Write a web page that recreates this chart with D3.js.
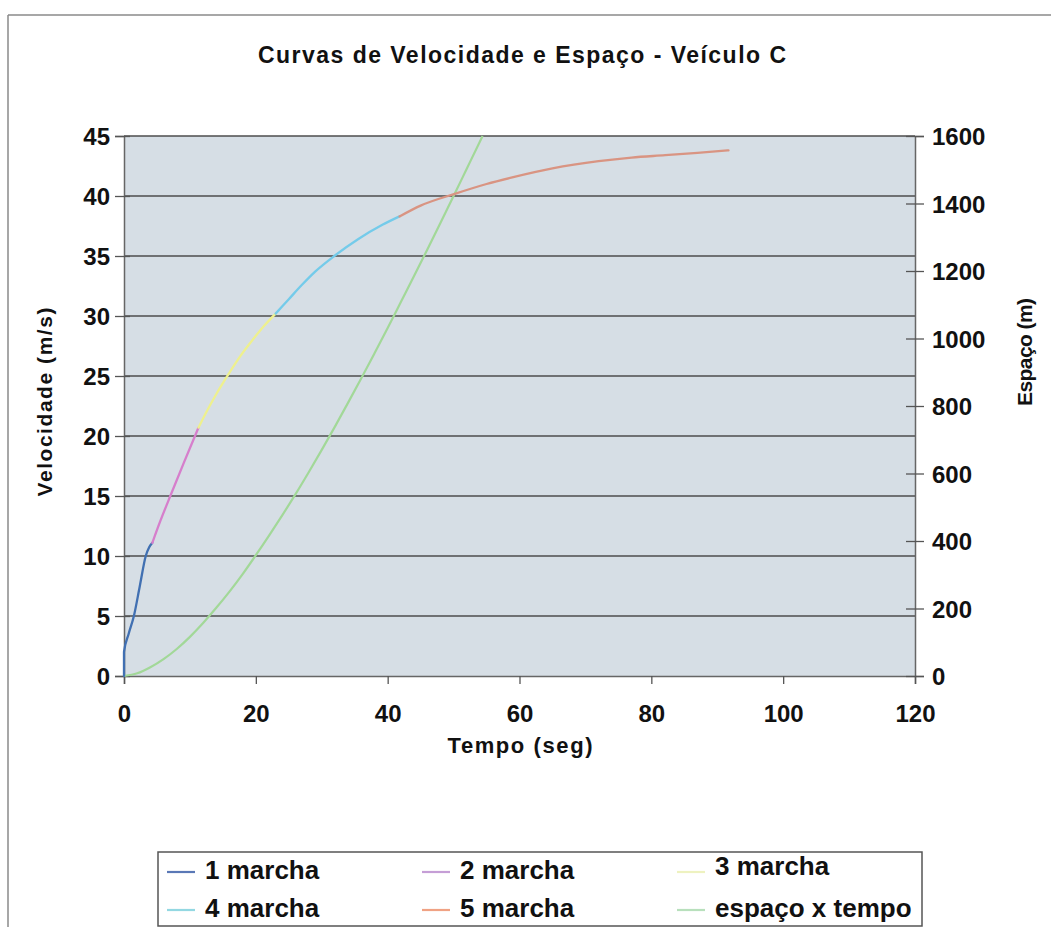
<!DOCTYPE html>
<html>
<head>
<meta charset="utf-8">
<script src="https://cdn.jsdelivr.net/npm/d3@7"></script>
<style>
  html, body { margin: 0; padding: 0; background: #ffffff; }
  svg { display: block; }
  text { font-family: "Liberation Sans", Arial, sans-serif; font-weight: bold; fill: #111; }
</style>
</head>
<body>
<svg id="chart" width="1051" height="927"></svg>
<script>
// Velocity (m/s) over time (s), one array per gear: [tempo, velocidade]
const marcha1 = [[0, 0], [0, 2.0], [0.7, 3.5], [1.5, 5.0], [2.4, 7.5], [3.3, 10.0], [3.8, 10.7], [4.3, 11.1]];
const marcha2 = [[4.3, 11.1], [5.5, 12.9], [7.1, 15.1], [9.1, 17.8], [11.3, 20.7]];
const marcha3 = [[11.3, 20.7], [12.5, 22.0], [13.9, 23.4], [15.9, 25.2], [17.7, 26.7], [19.5, 28.0], [21.3, 29.2], [23.0, 30.2]];
const marcha4 = [[23.0, 30.2], [25.0, 31.4], [27.0, 32.6], [29.0, 33.7], [31.9, 35.0], [35.5, 36.4], [39.2, 37.6], [41.8, 38.3]];
const marcha5 = [[41.8, 38.3], [45.0, 39.2], [50.3, 40.2], [55.0, 41.0], [58.9, 41.55], [65.0, 42.3], [72.0, 42.9], [77.0, 43.2], [82.1, 43.4], [87.0, 43.6], [91.7, 43.8]];

// Distance (m) over time (s): [tempo, espaço]
const espacoTempo = [[0, 0], [2, 8], [4, 26], [6, 50], [8, 80], [10, 116], [12, 157], [14, 202], [16, 250], [18, 302],
  [20, 358], [22, 416], [24, 476], [26, 538], [28, 603], [30, 670], [32, 739], [34, 810], [36, 882], [38, 956],
  [40, 1031], [42, 1108], [44, 1185], [46, 1263], [48, 1342], [50, 1422], [52, 1503], [54, 1584], [54.4, 1600]];

// Axis ticks
const tempoTicks = [0, 20, 40, 60, 80, 100, 120];
const velocidadeTicks = [0, 5, 10, 15, 20, 25, 30, 35, 40, 45];
const espacoTicks = [0, 200, 400, 600, 800, 1000, 1200, 1400, 1600];

// Legend entries in row-major order (3 columns)
const legendLabels = ["1 marcha", "2 marcha", "3 marcha", "4 marcha", "5 marcha", "espaço x tempo"];
const seriesColors = ["#4170b2", "#d67fcc", "#eef08e", "#74cbea", "#d99482", "#a2d898"];
const legendColors = ["#5a78b6", "#c59ed6", "#eef2c0", "#93d8e2", "#f0a284", "#b8e0bc"];

const svg = d3.select("#chart");

// Outer frame of the chart object
svg.append("line").attr("x1", 8).attr("y1", 15).attr("x2", 1051).attr("y2", 15)
  .attr("stroke", "#8a8a8a").attr("stroke-width", 1.5);
svg.append("line").attr("x1", 8).attr("y1", 15).attr("x2", 8).attr("y2", 927)
  .attr("stroke", "#8a8a8a").attr("stroke-width", 1.5);

const plot = { left: 124, right: 915, top: 136, bottom: 676 };

const x = d3.scaleLinear().domain([0, 120]).range([plot.left, plot.right]);
const yV = d3.scaleLinear().domain([0, 45]).range([plot.bottom, plot.top]);
const yS = d3.scaleLinear().domain([0, 1600]).range([plot.bottom, plot.top]);

// Plot area background
svg.append("rect")
  .attr("x", plot.left).attr("y", plot.top)
  .attr("width", plot.right - plot.left).attr("height", plot.bottom - plot.top)
  .attr("fill", "#d6dee5");

// Horizontal gridlines at the velocity ticks
svg.append("g").selectAll("line")
  .data(velocidadeTicks.filter(d => d > 0))
  .join("line")
  .attr("x1", plot.left).attr("x2", plot.right)
  .attr("y1", d => yV(d)).attr("y2", d => yV(d))
  .attr("stroke", "#4d4d4d").attr("stroke-width", 1.6);

// Title
svg.append("text")
  .attr("x", 522).attr("y", 63)
  .attr("text-anchor", "middle")
  .attr("font-size", 23)
  .attr("textLength", 528).attr("lengthAdjust", "spacing")
  .text("Curvas de Velocidade e Espaço - Veículo C");

// Bottom axis (tempo)
const gx = svg.append("g")
  .attr("transform", `translate(0,${plot.bottom})`)
  .call(d3.axisBottom(x).tickValues(tempoTicks).tickSize(8).tickFormat(d3.format("d")));
gx.select(".domain").attr("stroke", "#666").attr("stroke-width", 1.5);
gx.selectAll(".tick line").attr("stroke", "#555").attr("stroke-width", 1.3);
gx.selectAll(".tick text").attr("y", 46).attr("dy", 0)
  .attr("font-size", 24).attr("font-family", "Liberation Sans, Arial, sans-serif").attr("font-weight", "bold").attr("fill", "#111");

// Left axis (velocidade)
const gyL = svg.append("g")
  .attr("transform", `translate(${plot.left},0)`)
  .call(d3.axisLeft(yV).tickValues(velocidadeTicks).tickSize(9).tickFormat(d3.format("d")));
gyL.select(".domain").attr("stroke", "#666").attr("stroke-width", 1.5);
gyL.selectAll(".tick line").attr("x1", 6).attr("stroke", "#555").attr("stroke-width", 1.3);
gyL.selectAll(".tick text").attr("x", -14).attr("dy", "0.36em")
  .attr("font-size", 24).attr("font-family", "Liberation Sans, Arial, sans-serif").attr("font-weight", "bold").attr("fill", "#111");

// Right axis (espaço)
const gyR = svg.append("g")
  .attr("transform", `translate(${plot.right},0)`)
  .call(d3.axisRight(yS).tickValues(espacoTicks).tickSize(9).tickFormat(d3.format("d")));
gyR.select(".domain").attr("stroke", "#666").attr("stroke-width", 1.5);
gyR.selectAll(".tick line").attr("x1", -9).attr("stroke", "#555").attr("stroke-width", 1.3);
gyR.selectAll(".tick text").attr("x", 17).attr("dy", "0.36em")
  .attr("font-size", 24).attr("font-family", "Liberation Sans, Arial, sans-serif").attr("font-weight", "bold").attr("fill", "#111");

// Axis titles
svg.append("text")
  .attr("x", 520).attr("y", 753)
  .attr("text-anchor", "middle")
  .attr("font-size", 22)
  .attr("textLength", 145).attr("lengthAdjust", "spacing")
  .text("Tempo (seg)");

svg.append("text")
  .attr("transform", "translate(52,402) rotate(-90)")
  .attr("text-anchor", "middle")
  .attr("font-size", 21)
  .attr("textLength", 189).attr("lengthAdjust", "spacing")
  .text("Velocidade  (m/s)");

svg.append("text")
  .attr("transform", "translate(1032,352) rotate(-90)")
  .attr("text-anchor", "middle")
  .attr("font-size", 21)
  .attr("textLength", 108).attr("lengthAdjust", "spacing")
  .text("Espaço (m)");

// Curves
const lineV = d3.line().x(d => x(d[0])).y(d => yV(d[1])).curve(d3.curveMonotoneX);
const lineS = d3.line().x(d => x(d[0])).y(d => yS(d[1])).curve(d3.curveMonotoneX);

const velocidadeSeries = [marcha1, marcha2, marcha3, marcha4, marcha5];

svg.append("path")
  .datum(espacoTempo)
  .attr("d", lineS)
  .attr("fill", "none")
  .attr("stroke", seriesColors[5])
  .attr("stroke-width", 2.2);

svg.append("g").selectAll("path")
  .data(velocidadeSeries)
  .join("path")
  .attr("d", d => lineV(d))
  .attr("fill", "none")
  .attr("stroke", (d, i) => seriesColors[i])
  .attr("stroke-width", 2.3)
  .attr("stroke-linecap", "round");

// Legend
const legend = svg.append("g");
legend.append("rect")
  .attr("x", 158).attr("y", 852)
  .attr("width", 764).attr("height", 74)
  .attr("fill", "#fff")
  .attr("stroke", "#555").attr("stroke-width", 1.5);

const colX = [167, 422, 677];
const rowY = [872, 910];
const items = legend.selectAll("g.item")
  .data(legendLabels)
  .join("g")
  .attr("class", "item")
  .attr("transform", (d, i) => `translate(${colX[i % 3]},${rowY[Math.floor(i / 3)] - (i === 2 ? 4 : 0)})`);
items.append("line")
  .attr("x1", 0).attr("x2", 28).attr("y1", (d, i) => (i === 2 ? 4 : 0)).attr("y2", (d, i) => (i === 2 ? 4 : 0))
  .attr("stroke", (d, i) => legendColors[i])
  .attr("stroke-width", 2.2);
items.append("text")
  .attr("x", 38).attr("y", 7)
  .attr("font-size", 26)
  .text(d => d);
</script>
</body>
</html>
